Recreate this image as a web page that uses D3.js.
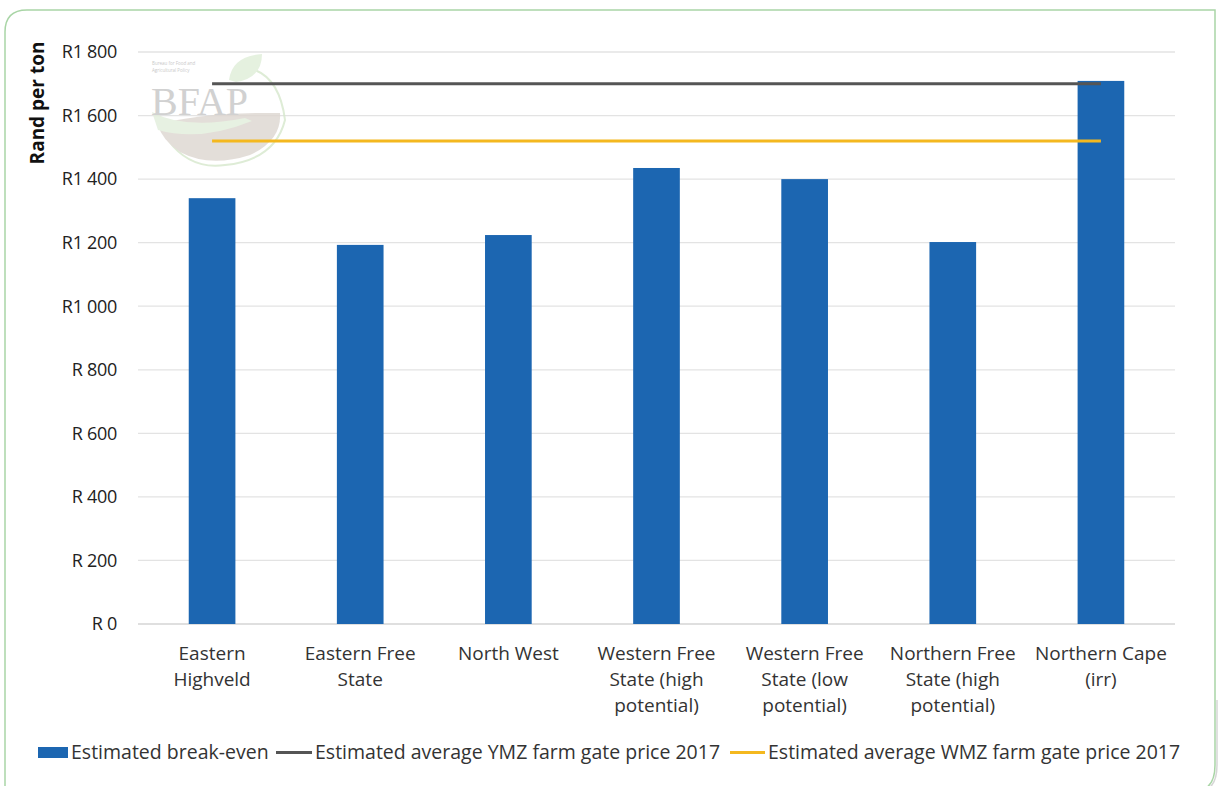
<!DOCTYPE html>
<html>
<head>
<meta charset="utf-8">
<script src="https://cdn.jsdelivr.net/npm/d3@7"></script>
<style>
  html, body { margin: 0; padding: 0; background: #fff; }
  svg { display: block; }
</style>
</head>
<body>
<svg id="chart" width="1218" height="786" font-family="'Open Sans', 'Liberation Sans', sans-serif"></svg>
<script>
const categories = [
  ["Eastern", "Highveld"],
  ["Eastern Free", "State"],
  ["North West"],
  ["Western Free", "State (high", "potential)"],
  ["Western Free", "State (low", "potential)"],
  ["Northern Free", "State (high", "potential)"],
  ["Northern Cape", "(irr)"]
];
const breakEven = [1340, 1193, 1224, 1435, 1400, 1202, 1709];
const ymzPrice = [1700, 1700, 1700, 1700, 1700, 1700, 1700];
const wmzPrice = [1520, 1520, 1520, 1520, 1520, 1520, 1520];
const yTicks = [0, 200, 400, 600, 800, 1000, 1200, 1400, 1600, 1800];
const yTickLabels = ["R 0", "R 200", "R 400", "R 600", "R 800", "R1 000", "R1 200", "R1 400", "R1 600", "R1 800"];
const seriesNames = ["Estimated break-even", "Estimated average YMZ farm gate price 2017", "Estimated average WMZ farm gate price 2017"];

const svg = d3.select("#chart");
const W = 1218, H = 786;
const plot = { left: 138, right: 1175, top: 52, bottom: 624 };

// frame
svg.append("path")
  .attr("d", `M1206,${H+2} Q1215,782 1215,765 L1215,10 L27,10 Q5,10 5,32 L5,${H+2}`)
  .attr("fill", "none").attr("stroke", "#a9d5a6").attr("stroke-width", 1.5);
svg.append("path")
  .attr("d", `M1209,${H+2} Q1217,782 1217,765 L1217,700`)
  .attr("fill", "none").attr("stroke", "#bbbbbb").attr("stroke-width", 1.5).attr("opacity", 0.6);

const x = d3.scaleBand().domain(d3.range(categories.length)).range([plot.left, plot.right]).paddingInner(0.685).paddingOuter(0.3425);
const xc = d3.scaleBand().domain(d3.range(categories.length)).range([plot.left, plot.right]);
const y = d3.scaleLinear().domain([0, 1800]).range([plot.bottom, plot.top]);

// gridlines
svg.append("g").selectAll("line").data(yTicks.slice(1)).join("line")
  .attr("x1", plot.left).attr("x2", plot.right)
  .attr("y1", d => y(d)).attr("y2", d => y(d))
  .attr("stroke", "#e3e3e3").attr("stroke-width", 1.3);

// logo watermark
const logo = svg.append("g").attr("opacity", 0.8);
logo.append("path").attr("d", "M168,140 Q190,170 225,165 Q275,160 285,120 Q280,80 255,70")
  .attr("fill", "none").attr("stroke", "#d6e8cc").attr("stroke-width", 2);
logo.append("path").attr("d", "M158,125 Q200,112 280,113 Q282,140 250,155 Q210,168 180,152 Q162,140 158,125 Z")
  .attr("fill", "#ddd6d0");
logo.append("path").attr("d", "M152,112 Q185,130 245,118 L252,121 Q200,142 158,130 Z")
  .attr("fill", "#e2eedb");
logo.append("path").attr("d", "M229,80 Q232,56 262,54 Q262,78 236,82 Z").attr("fill", "#dfeed8");
logo.append("text").attr("x", 151).attr("y", 115).style("font-family", "'Liberation Serif', 'DejaVu Serif', serif")
  .attr("font-size", 40).attr("fill", "#c6c6c6").text("BFAP");
logo.append("text").attr("x", 152).attr("y", 65).attr("font-size", 4.5).attr("fill", "#bbb").text("Bureau for Food and");
logo.append("text").attr("x", 152).attr("y", 72).attr("font-size", 4.5).attr("fill", "#bbb").text("Agricultural Policy");

// baseline
svg.append("line").attr("x1", plot.left).attr("x2", plot.right)
  .attr("y1", y(0)).attr("y2", y(0)).attr("stroke", "#d4d4d4").attr("stroke-width", 1.3);

// bars
svg.append("g").selectAll("rect").data(breakEven).join("rect")
  .attr("x", (d, i) => x(i)).attr("width", x.bandwidth())
  .attr("y", d => y(d)).attr("height", d => y(0) - y(d))
  .attr("fill", "#1c66b1");

// lines
const line = d3.line().x((d, i) => xc(i) + xc.bandwidth() / 2).y(d => y(d));
svg.append("path").datum(ymzPrice).attr("d", line).attr("fill", "none").attr("stroke", "#555555").attr("stroke-width", 3);
svg.append("path").datum(wmzPrice).attr("d", line).attr("fill", "none").attr("stroke", "#f4b81f").attr("stroke-width", 3);

// y axis labels
svg.append("g").selectAll("text").data(yTicks).join("text")
  .attr("x", 117).attr("y", d => y(d)).attr("dy", "0.35em")
  .attr("text-anchor", "end").attr("font-size", 18).attr("letter-spacing", -0.3).attr("fill", "#222")
  .text((d, i) => yTickLabels[i]);

// y axis title
svg.append("text").attr("transform", "translate(44,103) rotate(-90)")
  .attr("text-anchor", "middle").attr("font-size", 19).attr("font-weight", "bold").attr("fill", "#111")
  .text("Rand per ton");

// x labels
const xl = svg.append("g").selectAll("text").data(categories).join("text")
  .attr("x", (d, i) => xc(i) + xc.bandwidth() / 2).attr("y", 660)
  .attr("text-anchor", "middle").attr("font-size", 19).attr("fill", "#333");
xl.selectAll("tspan").data(d => d).join("tspan")
  .attr("x", function () { return d3.select(this.parentNode).attr("x"); })
  .attr("dy", (d, i) => i === 0 ? 0 : 26).text(d => d);

// legend
const lg = svg.append("g").attr("font-size", 19.5).attr("fill", "#333");
lg.append("rect").attr("x", 38).attr("y", 747).attr("width", 30).attr("height", 11).attr("fill", "#1c66b1");
lg.append("text").attr("x", 71).attr("y", 759).attr("fill", "#333").text(seriesNames[0]);
lg.append("line").attr("x1", 276).attr("x2", 312).attr("y1", 752.5).attr("y2", 752.5).attr("stroke", "#555").attr("stroke-width", 3);
lg.append("text").attr("x", 315).attr("y", 759).attr("fill", "#333").text(seriesNames[1]);
lg.append("line").attr("x1", 730).attr("x2", 765).attr("y1", 752.5).attr("y2", 752.5).attr("stroke", "#f4b81f").attr("stroke-width", 3);
lg.append("text").attr("x", 768).attr("y", 759).attr("fill", "#333").text(seriesNames[2]);
</script>
</body>
</html>
